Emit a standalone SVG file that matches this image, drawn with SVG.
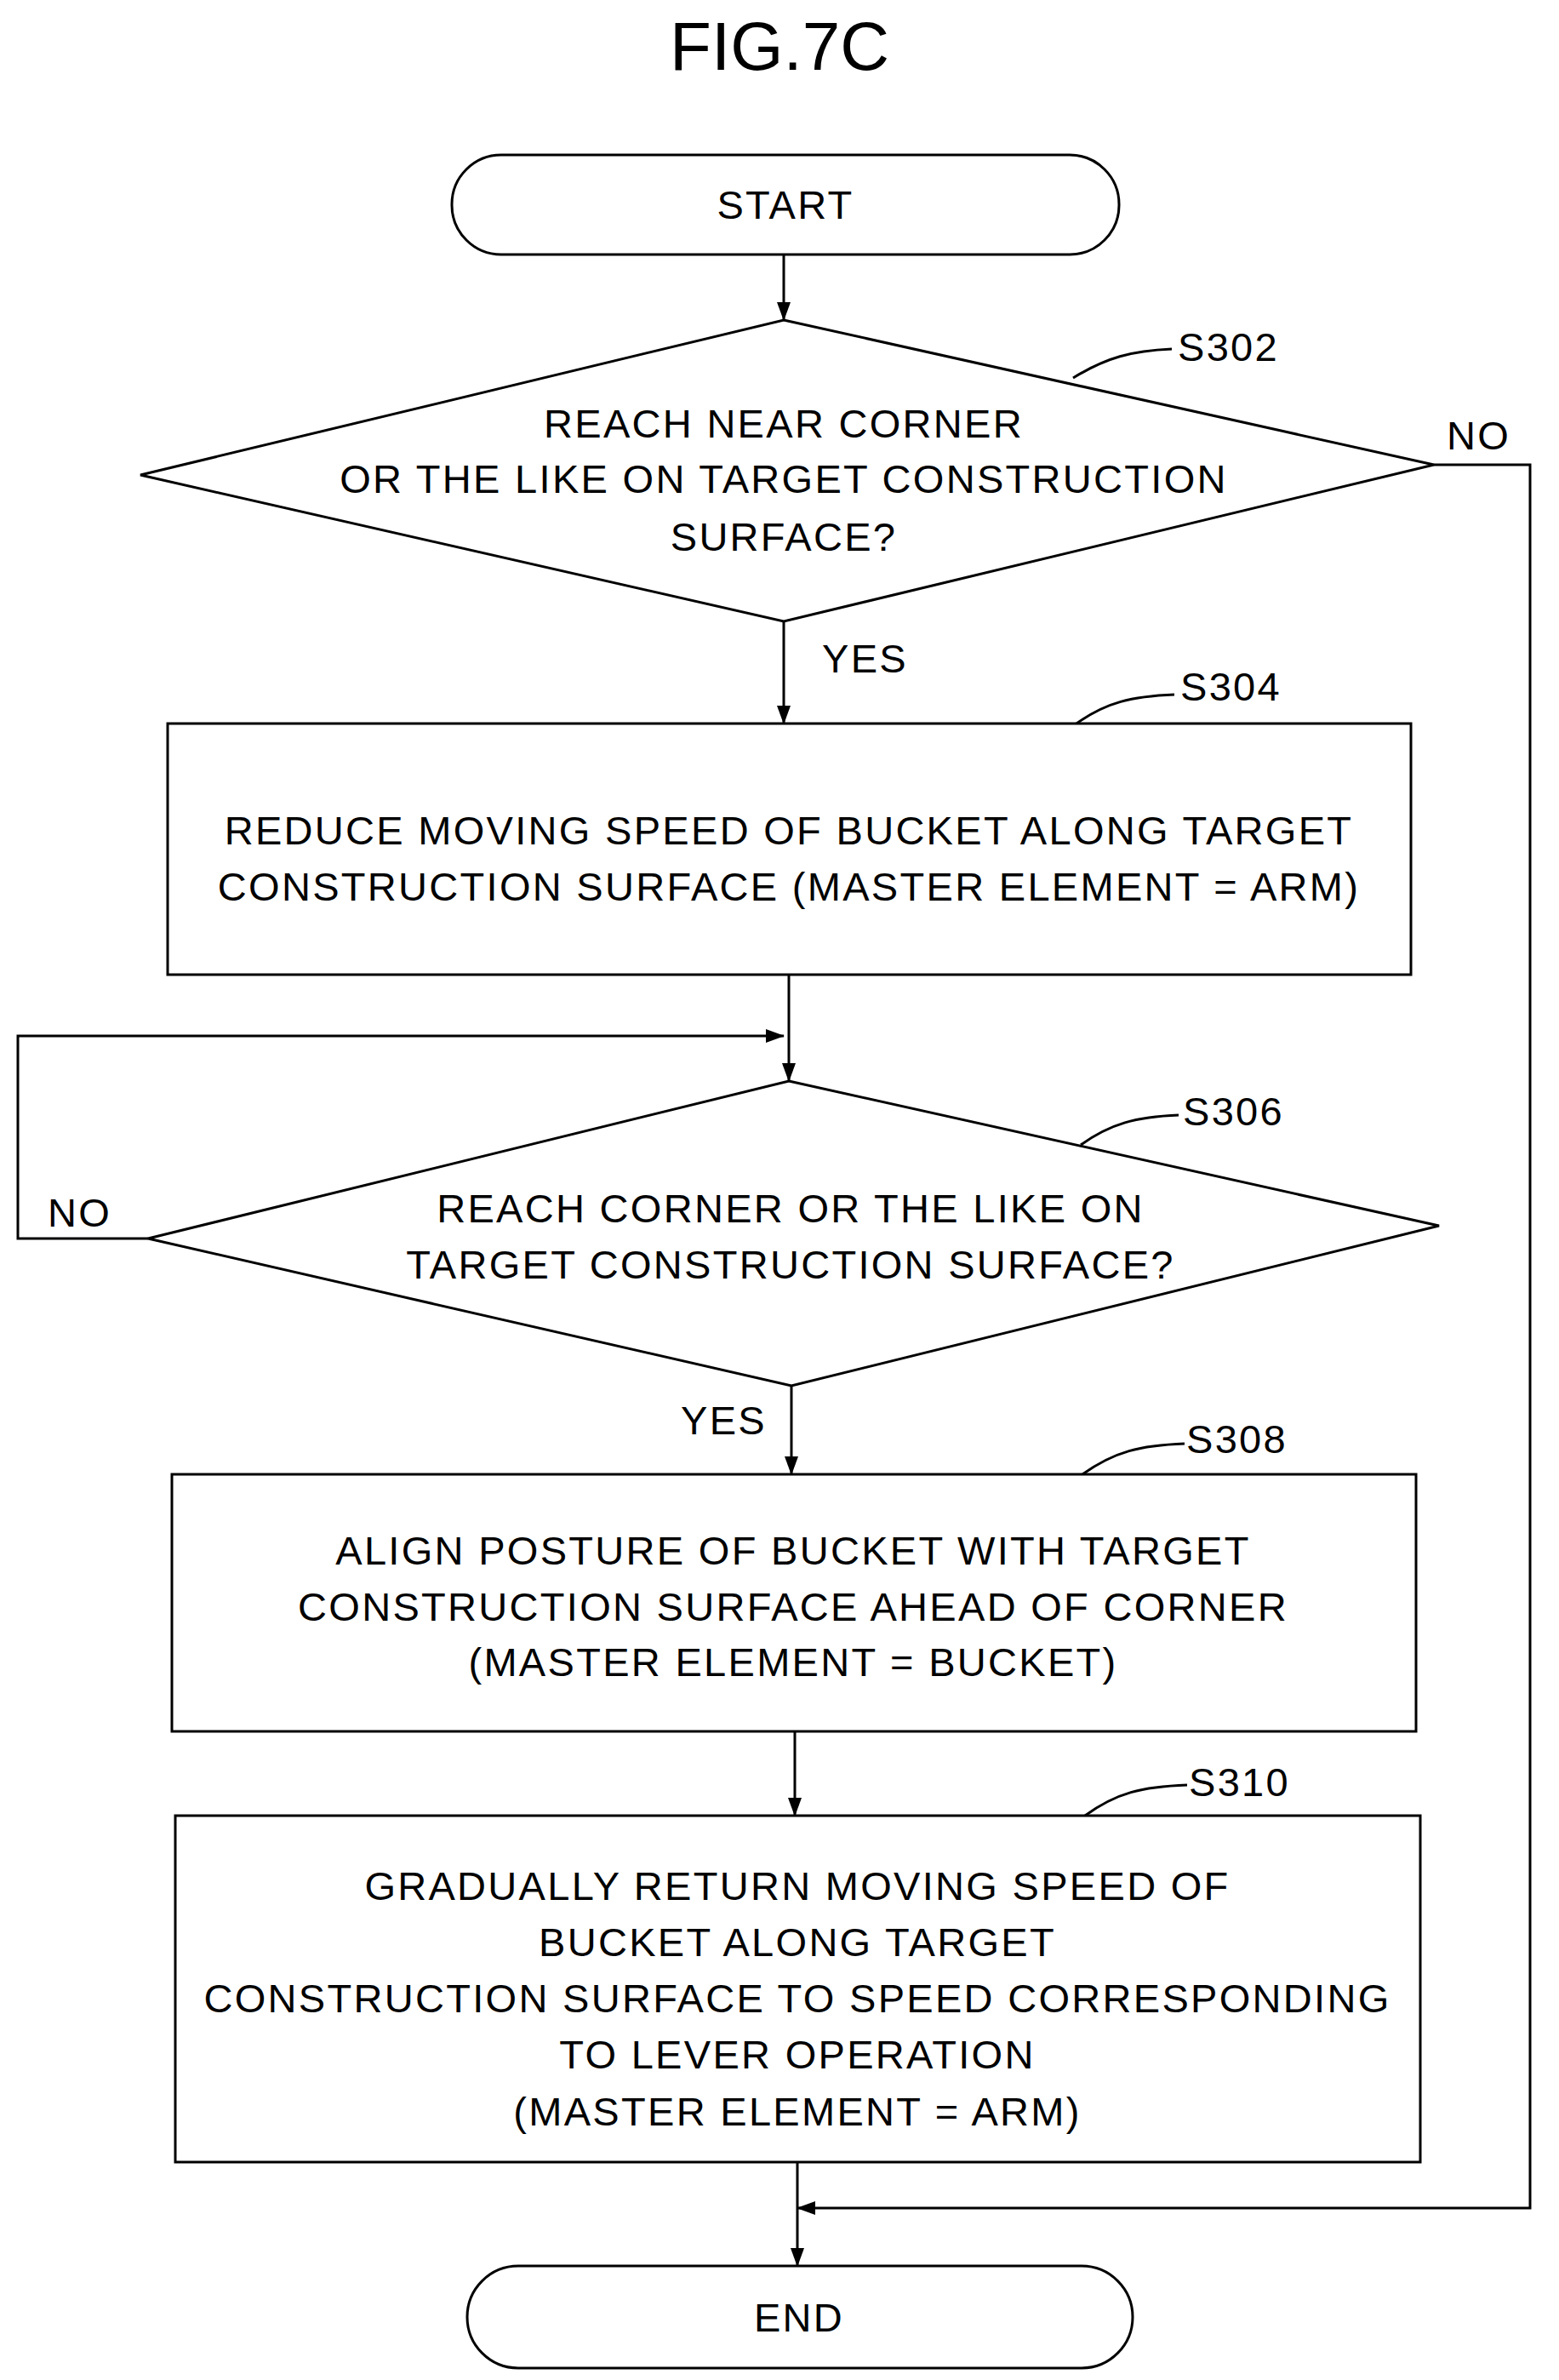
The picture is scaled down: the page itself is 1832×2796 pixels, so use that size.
<svg xmlns="http://www.w3.org/2000/svg" width="1832" height="2796" viewBox="0 0 1832 2796">
<style>
.s{fill:#fff;stroke:#000;stroke-width:3}
.l{fill:none;stroke:#000;stroke-width:3}
text{font-family:"Liberation Sans",Arial,sans-serif;font-size:47px;fill:#000;text-anchor:middle;letter-spacing:2.3px}
.lb{text-anchor:start}
</style>
<defs><marker id="ah" markerWidth="22" markerHeight="22" refX="21" refY="11" orient="auto" markerUnits="userSpaceOnUse"><path d="M0,3 L22,11 L0,19 Z" fill="#000"/></marker></defs>
<rect width="1832" height="2796" fill="#fff"/>
<text x="916" y="82" style="font-size:80px;letter-spacing:0">FIG.7C</text>
<g id="connectors">
<path class="l" d="M921,299 V376" marker-end="url(#ah)"/>
<path class="l" d="M921,730 V850" marker-end="url(#ah)"/>
<path class="l" d="M927,1145 V1270" marker-end="url(#ah)"/>
<path class="l" d="M174,1455 H21 V1217 H921" marker-end="url(#ah)"/>
<path class="l" d="M930,1628 V1732" marker-end="url(#ah)"/>
<path class="l" d="M934,2034 V2133" marker-end="url(#ah)"/>
<path class="l" d="M937,2540 V2662" marker-end="url(#ah)"/>
<path class="l" d="M1685,546 H1798 V2594 H937" marker-end="url(#ah)"/>
<text x="1700" y="528" class="lb">NO</text>
<text x="966" y="790" class="lb">YES</text>
<text x="56" y="1441" class="lb">NO</text>
<text x="800" y="1685" class="lb">YES</text>
</g>
<g id="start"><rect class="s" x="531" y="182" width="784" height="117" rx="58"/><text x="923" y="257">START</text></g>
<g id="s302"><path class="s" d="M921,376 L1685,546 L921,730 L165,558 Z"/>
<text x="921" y="514">REACH NEAR CORNER</text><text x="921" y="579">OR THE LIKE ON TARGET CONSTRUCTION</text><text x="921" y="647">SURFACE?</text>
<path class="l" d="M1261,444 C1300,420 1330,412 1377,410"/><text x="1384" y="424" class="lb">S302</text></g>
<g id="s304"><rect class="s" x="197" y="850" width="1461" height="295"/>
<text x="927" y="992">REDUCE MOVING SPEED OF BUCKET ALONG TARGET</text><text x="927" y="1058">CONSTRUCTION SURFACE (MASTER ELEMENT = ARM)</text>
<path class="l" d="M1265,850 C1300,825 1330,818 1380,816"/><text x="1387" y="823" class="lb">S304</text></g>
<g id="s306"><path class="s" d="M927,1270 L1691,1440 L930,1628 L174,1455 Z"/>
<text x="929" y="1436">REACH CORNER OR THE LIKE ON</text><text x="929" y="1502">TARGET CONSTRUCTION SURFACE?</text>
<path class="l" d="M1270,1345 C1305,1320 1335,1312 1385,1310"/><text x="1390" y="1322" class="lb">S306</text></g>
<g id="s308"><rect class="s" x="202" y="1732" width="1462" height="302"/>
<text x="932" y="1838">ALIGN POSTURE OF BUCKET WITH TARGET</text><text x="932" y="1904">CONSTRUCTION SURFACE AHEAD OF CORNER</text><text x="932" y="1969">(MASTER ELEMENT = BUCKET)</text>
<path class="l" d="M1272,1732 C1310,1705 1340,1698 1392,1696"/><text x="1394" y="1707" class="lb">S308</text></g>
<g id="s310"><rect class="s" x="206" y="2133" width="1463" height="407"/>
<text x="937" y="2232">GRADUALLY RETURN MOVING SPEED OF</text><text x="937" y="2298">BUCKET ALONG TARGET</text><text x="937" y="2364">CONSTRUCTION SURFACE TO SPEED CORRESPONDING</text><text x="937" y="2430">TO LEVER OPERATION</text><text x="937" y="2497">(MASTER ELEMENT = ARM)</text>
<path class="l" d="M1275,2133 C1312,2106 1342,2099 1395,2097"/><text x="1397" y="2110" class="lb">S310</text></g>
<g id="end"><rect class="s" x="549" y="2662" width="782" height="120" rx="60"/><text x="939" y="2739">END</text></g>
</svg>
